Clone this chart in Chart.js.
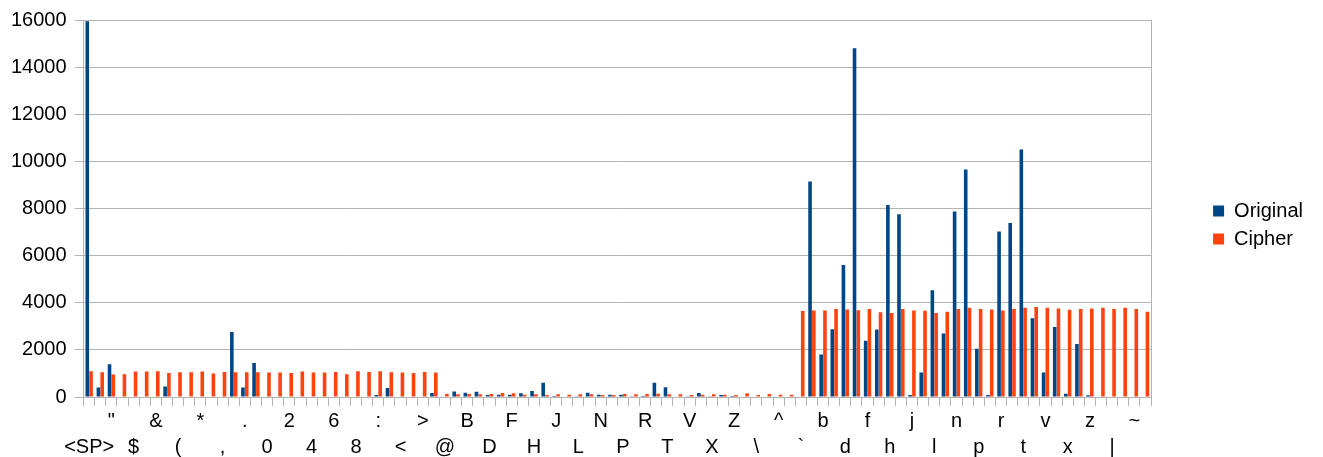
<!DOCTYPE html>
<html>
<head>
<meta charset="utf-8">
<script src="https://cdn.jsdelivr.net/npm/chart.js@4"></script>
<style>
  html, body { margin: 0; padding: 0; background: #fff; }
  #wrap { width: 1323px; height: 457px; position: relative; }
</style>
</head>
<body>
<div id="wrap"><canvas id="myChart"></canvas></div>
<script>
const chars = ['<SP>', '!', '"', '#', '$', '%', '&', "'", '(', ')', '*', '+', ',', '-', '.', '/',
  '0', '1', '2', '3', '4', '5', '6', '7', '8', '9', ':', ';', '<', '=', '>', '?',
  '@', 'A', 'B', 'C', 'D', 'E', 'F', 'G', 'H', 'I', 'J', 'K', 'L', 'M', 'N', 'O',
  'P', 'Q', 'R', 'S', 'T', 'U', 'V', 'W', 'X', 'Y', 'Z', '[', '\\', ']', '^', '_',
  '`', 'a', 'b', 'c', 'd', 'e', 'f', 'g', 'h', 'i', 'j', 'k', 'l', 'm', 'n', 'o',
  'p', 'q', 'r', 's', 't', 'u', 'v', 'w', 'x', 'y', 'z', '{', '|', '}', '~', '<DEL>'];

const original = [15950, 400, 1390, 0, 0, 0, 0, 450, 20, 20, 0, 0, 0, 2760, 400, 1440,
  0, 0, 0, 0, 0, 0, 0, 0, 0, 0, 80, 380, 0, 0, 0, 170,
  0, 230, 185, 225, 85, 100, 100, 155, 255, 610, 40, 20, 30, 185, 100, 100,
  100, 15, 40, 610, 410, 20, 30, 170, 10, 85, 5, 0, 0, 0, 0, 0,
  0, 9150, 1800, 2880, 5600, 14800, 2390, 2860, 8150, 7760, 85, 1040, 4530, 2700, 7870, 9650,
  2050, 85, 7020, 7380, 10500, 3340, 1040, 2970, 140, 2250, 70, 0, 0, 0, 0, 0];

const cipher = [1090, 1050, 950, 965, 1080, 1080, 1090, 1020, 1050, 1050, 1080, 995, 1065, 1050, 1050, 1050,
  1035, 1035, 1020, 1080, 1035, 1035, 1065, 965, 1090, 1065, 1090, 1050, 1035, 1020, 1065, 1035,
  130, 115, 130, 115, 130, 170, 160, 100, 115, 85, 115, 100, 115, 115, 85, 85,
  130, 115, 130, 140, 115, 115, 85, 100, 115, 100, 85, 155, 85, 130, 100, 100,
  3645, 3670, 3670, 3740, 3715, 3685, 3740, 3600, 3570, 3740, 3670, 3660, 3570, 3615, 3740, 3785,
  3740, 3715, 3670, 3740, 3785, 3815, 3785, 3760, 3700, 3730, 3760, 3785, 3740, 3785, 3730, 3615];

const yTicks = [0, 2000, 4000, 6000, 8000, 10000, 12000, 14000, 16000];

const gridColor = '#b3b3b3';
const fontFamily = "'Liberation Sans', Arial, sans-serif";

// every second label, staggered over two rows
const tickLabel = (i) => {
  if (i % 2 === 1) return '';
  const k = i / 2;
  return k % 2 === 1 ? [chars[i]] : ['', chars[i]];
};

// nudge the legend up a little, it sits above the middle in the original
const legendShift = {
  id: 'legendShift',
  afterLayout(chart) {
    chart.legend.top -= 10;
    chart.legend.bottom -= 10;
  }
};

const ctx = document.getElementById('myChart').getContext('2d');

const myChart = new Chart(ctx, {
  type: 'bar',
  data: {
    labels: chars,
    datasets: [{
      label: 'Original',
      data: original,
      backgroundColor: '#004586',
      borderWidth: 0,
      categoryPercentage: 0.68,
      barPercentage: 0.95,
    }, {
      label: 'Cipher',
      data: cipher,
      backgroundColor: '#ff420e',
      borderWidth: 0,
      categoryPercentage: 0.68,
      barPercentage: 0.95,
    }]
  },
  plugins: [legendShift],
  options: {
    responsive: true,
    maintainAspectRatio: false,
    animation: false,
    layout: {
      padding: {top: 8, left: 3, right: 10, bottom: -5}
    },
    plugins: {
      legend: {
        display: true,
        position: 'right',
        labels: {
          boxWidth: 11,
          boxHeight: 11,
          padding: 8,
          color: '#000',
          font: {size: 20, family: fontFamily},
        }
      },
      tooltip: {enabled: false},
    },
    scales: {
      x: {
        grid: {
          offset: true,
          drawOnChartArea: false,
          tickLength: 9,
          color: gridColor,
        },
        border: {color: gridColor},
        ticks: {
          autoSkip: false,
          maxRotation: 0,
          minRotation: 0,
          padding: 2,
          color: '#000',
          font: {size: 20, family: fontFamily, lineHeight: 1.3},
          callback: function(value, index) { return tickLabel(index); },
        }
      },
      y: {
        min: 0,
        max: 16000,
        afterBuildTicks: function(scale) { scale.ticks = yTicks.map(v => ({value: v})); },
        grid: {color: gridColor, tickLength: 9},
        border: {color: gridColor},
        ticks: {
          padding: 8,
          color: '#000',
          font: {size: 20, family: fontFamily},
          callback: function(value) { return String(value); },
        }
      },
      y2: {
        type: 'linear',
        position: 'right',
        display: true,
        min: 0,
        max: 16000,
        grid: {drawOnChartArea: false, drawTicks: false},
        border: {display: true, color: gridColor},
        ticks: {display: false},
        afterFit: function(scale) { scale.width = 54; },
      }
    }
  }
});
</script>
</body>
</html>
